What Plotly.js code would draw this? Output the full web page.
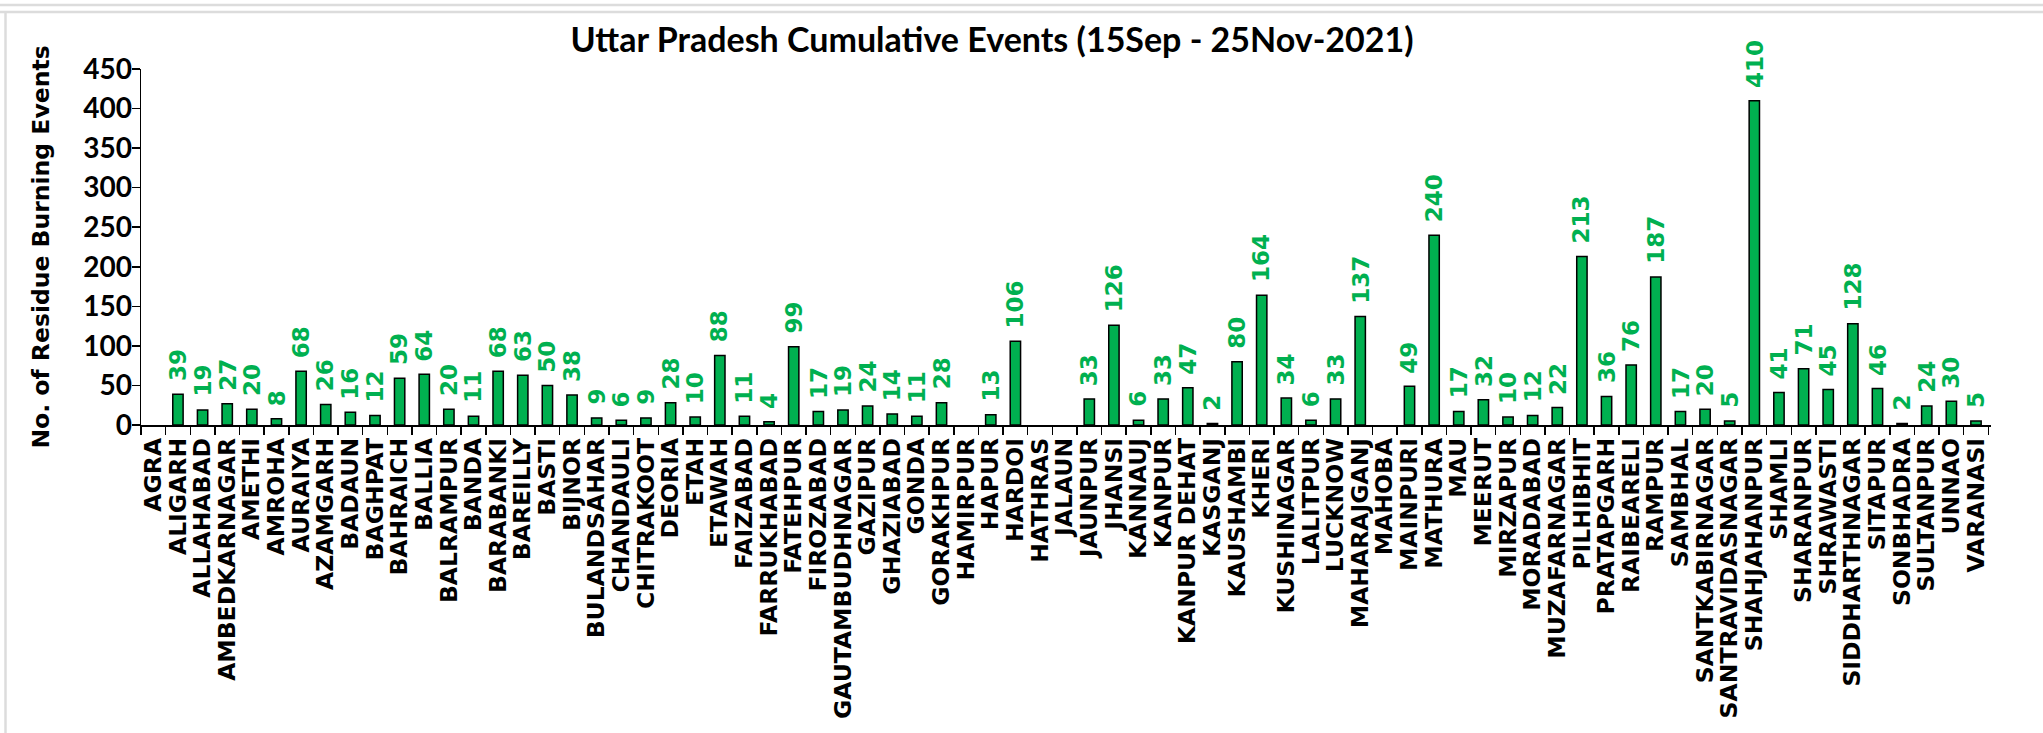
<!DOCTYPE html>
<html>
<head>
<meta charset="utf-8">
<script src="https://cdn.plot.ly/plotly-3.0.1.min.js"></script>
<style>
html,body{margin:0;padding:0;background:#fff;}
#chart{width:2043px;height:733px;}
</style>
</head>
<body>
<div id="chart"></div>
<script>
var districts = ["AGRA","ALIGARH","ALLAHABAD","AMBEDKARNAGAR","AMETHI","AMROHA","AURAIYA","AZAMGARH","BADAUN","BAGHPAT","BAHRAICH","BALLIA","BALRAMPUR","BANDA","BARABANKI","BAREILLY","BASTI","BIJNOR","BULANDSAHAR","CHANDAULI","CHITRAKOOT","DEORIA","ETAH","ETAWAH","FAIZABAD","FARRUKHABAD","FATEHPUR","FIROZABAD","GAUTAMBUDHNAGAR","GAZIPUR","GHAZIABAD","GONDA","GORAKHPUR","HAMIRPUR","HAPUR","HARDOI","HATHRAS","JALAUN","JAUNPUR","JHANSI","KANNAUJ","KANPUR","KANPUR DEHAT","KASGANJ","KAUSHAMBI","KHERI","KUSHINAGAR","LALITPUR","LUCKNOW","MAHARAJGANJ","MAHOBA","MAINPURI","MATHURA","MAU","MEERUT","MIRZAPUR","MORADABAD","MUZAFARNAGAR","PILHIBHIT","PRATAPGARH","RAIBEARELI","RAMPUR","SAMBHAL","SANTKABIRNAGAR","SANTRAVIDASNAGAR","SHAHJAHANPUR","SHAMLI","SHARANPUR","SHRAWASTI","SIDDHARTHNAGAR","SITAPUR","SONBHADRA","SULTANPUR","UNNAO","VARANASI"];
var events = [0,39,19,27,20,8,68,26,16,12,59,64,20,11,68,63,50,38,9,6,9,28,10,88,11,4,99,17,19,24,14,11,28,0,13,106,0,0,33,126,6,33,47,2,80,164,34,6,33,137,0,49,240,17,32,10,12,22,213,36,76,187,17,20,5,410,41,71,45,128,46,2,24,30,5];
var yTicks = [0,50,100,150,200,250,300,350,400,450];

var chartTitle = "Uttar Pradesh Cumulative Events (15Sep - 25Nov-2021)";
var yTitle = "No. of Residue Burning Events";

var GREEN = "#00B050";
var labelFont = {family:"DejaVu Sans, Verdana, sans-serif", size:23, color:GREEN, weight:700};

var annotations = [];
for (var i = 0; i < districts.length; i++) {
  if (events[i] > 0) {
    annotations.push({
      x: districts[i], y: events[i], xref:"x", yref:"y",
      text: String(events[i]), showarrow:false,
      textangle:-90, xanchor:"center", yanchor:"bottom",
      yshift: 11, font: labelFont
    });
  }
}

var trace = {
  type:"bar", x:districts, y:events,
  marker:{color:GREEN, line:{color:"#000", width:events.map(function(v){return v>0?1.5:0;})}},
  hoverinfo:"x+y"
};

function px2x(px){ return (px-141)/1850; }
function px2y(py){ return (425-py)/356; }

var shapes = [
  {type:"line", xref:"paper", yref:"paper", x0:px2x(0), x1:px2x(2043), y0:px2y(5), y1:px2y(5), line:{color:"#dcdcdc", width:2.5}},
  {type:"line", xref:"paper", yref:"paper", x0:px2x(0), x1:px2x(2043), y0:px2y(12), y1:px2y(12), line:{color:"#dcdcdc", width:2.5}},
  {type:"line", xref:"paper", yref:"paper", x0:px2x(5.5), x1:px2x(5.5), y0:px2y(12), y1:px2y(733), line:{color:"#dcdcdc", width:2.5}}
];

var layout = {
  width:2043, height:733,
  margin:{l:141, r:52, t:69, b:308, pad:0},
  paper_bgcolor:"#fff", plot_bgcolor:"#fff",
  showlegend:false,
  bargap:0.58,
  title:{
    text:"<b>"+chartTitle+"</b>",
    font:{family:"Lato, Calibri, sans-serif", size:34, color:"#000"},
    x:992/2043, xref:"container", xanchor:"center",
    y:1-40/733, yref:"container", yanchor:"middle"
  },
  xaxis:{
    type:"category", categoryorder:"array", categoryarray:districts,
    tickmode:"linear", tick0:0, dtick:1,
    tickangle:-90,
    tickfont:{family:"DejaVu Sans, Verdana, sans-serif", size:23.5, color:"#000", weight:700},
    ticks:"outside", tickson:"boundaries", ticklen:8, tickwidth:1.5, tickcolor:"#000",
    showline:true, linecolor:"#000", linewidth:1.5,
    showgrid:false, zeroline:false,
    ticklabelstandoff:2,
    automargin:false
  },
  yaxis:{
    range:[0,450], tickvals:yTicks, ticktext:yTicks.map(String),
    tickfont:{family:"Lato, Calibri, sans-serif", size:28, color:"#000", weight:700},
    ticks:"outside", ticklen:8, tickwidth:1.5, tickcolor:"#000",
    showline:true, linecolor:"#000", linewidth:1.5,
    showgrid:false, zeroline:false,
    ticklabelstandoff:-6,
    title:{text:"<b>"+yTitle+"</b>", font:{family:"DejaVu Sans, Verdana, sans-serif", size:23.5, color:"#000"}, standoff:27},
    automargin:false
  },
  shapes:shapes,
  annotations:annotations
};

Plotly.newPlot("chart",[trace],layout,{displayModeBar:false, staticPlot:true});
</script>
</body>
</html>
